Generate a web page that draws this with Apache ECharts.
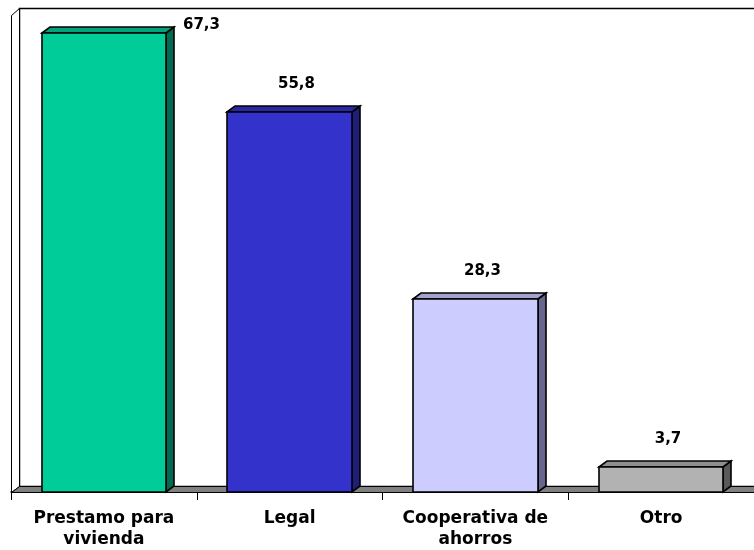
<!DOCTYPE html>
<html><head><meta charset="utf-8">
<script src="https://cdn.jsdelivr.net/npm/echarts@6/dist/echarts.min.js"></script>
<style>html,body{margin:0;padding:0;background:#fff}#c{width:754px;height:550px}</style>
</head><body><div id="c"></div>
<script>
const categories = ['Prestamo para\nvivienda', 'Legal', 'Cooperativa de\nahorros', 'Otro'];
const values = [67.3, 55.8, 28.3, 3.7];
const yMin = 0;
const yMax = 70;

const frontColors = ['#00CC99', '#3333CC', '#CCCCFF', '#B2B2B2'];
const topColors   = ['#00A37A', '#2929A3', '#A3A3CC', '#8E8E8E'];
const sideColors  = ['#006B50', '#1F1F7A', '#66668F', '#595959'];
const DX = 8, DY = -6;

const chart = echarts.init(document.getElementById('c'), null, {renderer: 'canvas'});
function px(v) { return Math.round(v) + 0.5; }
function ip(v) { return Math.round(v); }

const option = {
  animation: false,
  backgroundColor: '#ffffff',
  grid: {left: 11, top: 15, width: 747, height: 477},
  xAxis: {
    type: 'category',
    data: categories,
    boundaryGap: true,
    axisLine: {show: true, lineStyle: {color: '#000', width: 1.5}},
    axisTick: {show: true, length: 8, interval: 0, lineStyle: {color: '#000'}},
    axisLabel: {interval: 0, margin: 16, color: '#000', fontFamily: '"DejaVu Sans", Verdana, sans-serif',
      fontWeight: 'bold', fontSize: 17, lineHeight: 21},
    splitLine: {show: false}
  },
  yAxis: {type: 'value', min: yMin, max: yMax, show: false, splitLine: {show: false}},
  series: [
    {
      type: 'custom',
      z: 1,
      silent: true,
      data: [[0, 0]],
      renderItem: function (params, api) {
        const cs = params.coordSys;
        const x0 = px(cs.x), yt = px(cs.y), yb = px(cs.y + cs.height), x1 = cs.x + cs.width + 20;
        return {
          type: 'group',
          children: [
            {type: 'polygon', shape: {points: [[x0 + DX, yt + DY - 1], [x1, yt + DY - 1], [x1, yb + DY], [x0 + DX, yb + DY]]},
              style: {fill: '#ffffff', stroke: '#000', lineWidth: 1.5}},
            {type: 'polygon', shape: {points: [[x0, yt], [x0 + DX, yt + DY - 1], [x0 + DX, yb + DY], [x0, yb]]},
              style: {fill: '#ffffff', stroke: '#000', lineWidth: 1}},
            {type: 'polygon', shape: {points: [[x0, yb], [x0 + DX, yb + DY], [x1, yb + DY], [x1, yb]]},
              style: {fill: '#808080', stroke: '#000', lineWidth: 1}}
          ]
        };
      }
    },
    {
      type: 'custom',
      z: 3,
      data: values.map((v, i) => [i, v]),
      encode: {x: 0, y: 1},
      renderItem: function (params, api) {
        const i = api.value(0), v = api.value(1);
        const cs = params.coordSys;
        const topPt = api.coord([i, v]);
        const basePt = api.coord([i, 0]);
        const w = api.size([1, 0])[0] * 0.67;
        const x0 = ip(topPt[0] - w / 2), x1 = ip(topPt[0] + w / 2);
        const yt = ip(topPt[1]), yb = ip(basePt[1]);
        const idx = params.dataIndex;
        const txt = v.toFixed(1).replace('.', ',');
        let tx = (x0 + x1) / 2 + DX / 2 + 3, ty = yt - 28, align = 'center';
        if (ty - 8 < cs.y) { tx = x1 + DX + 9; ty = yt - 8; align = 'left'; }
        const ls = {stroke: '#000', lineWidth: 1.6, lineJoin: 'miter'};
        return {
          type: 'group',
          children: [
            {type: 'polygon', shape: {points: [[x1, yt], [x1 + DX, yt + DY], [x1 + DX, yb + DY], [x1, yb]]},
              style: Object.assign({fill: sideColors[idx]}, ls)},
            {type: 'polygon', shape: {points: [[x0, yt], [x0 + DX, yt + DY], [x1 + DX, yt + DY], [x1, yt]]},
              style: Object.assign({fill: topColors[idx]}, ls)},
            {type: 'rect', shape: {x: x0, y: yt, width: x1 - x0, height: yb - yt},
              style: Object.assign({fill: frontColors[idx]}, ls)},
            {type: 'text', style: {text: txt, x: tx, y: ty, fill: '#000', align: align, verticalAlign: 'middle',
              font: 'bold 15px "DejaVu Sans", Verdana, sans-serif'}}
          ]
        };
      }
    }
  ]
};
chart.setOption(option);
</script></body></html>
